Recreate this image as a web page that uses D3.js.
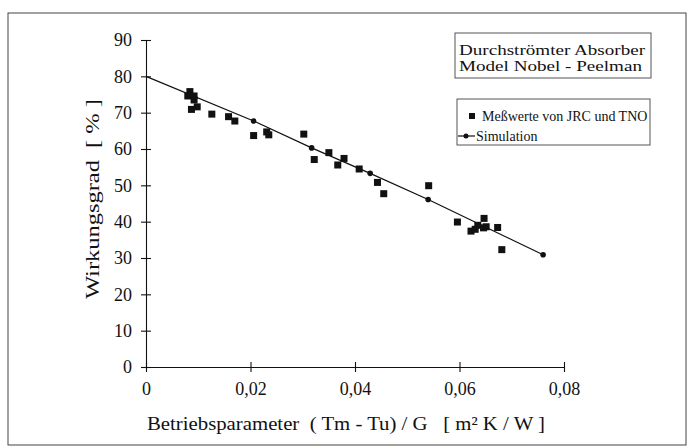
<!DOCTYPE html>
<html>
<head>
<meta charset="utf-8">
<script src="https://cdn.jsdelivr.net/npm/d3@7"></script>
<style>
body { margin: 0; background: #fff; }
text { font-family: "Liberation Serif", "DejaVu Serif", serif; fill: #111; }
</style>
</head>
<body>
<script>

// Messwerte (JRC / TNO)
var messX = [0.0084, 0.0080, 0.0092, 0.0092, 0.0087, 0.0098, 0.0126, 0.0158, 0.0170, 0.0206,
             0.0231, 0.0235, 0.0302, 0.0322, 0.0350, 0.0379, 0.0367, 0.0408, 0.0443, 0.0455,
             0.0541, 0.0596, 0.0647, 0.0635, 0.0646, 0.0651, 0.0622, 0.0630, 0.0673, 0.0681];
var messY = [75.8, 74.6, 74.6, 73.5, 70.9, 71.6, 69.6, 68.9, 67.7, 63.7,
             64.7, 63.9, 64.1, 57.1, 59.0, 57.4, 55.6, 54.5, 50.8, 47.7,
             49.9, 39.9, 40.9, 39.0, 38.3, 38.6, 37.4, 37.9, 38.4, 32.3];

// Simulation
var simX = [0, 0.0206, 0.0317, 0.0429, 0.0540, 0.0760];
var simY = [80, 67.7, 60.3, 53.3, 46.1, 30.9];

var xTicks = [0, 0.02, 0.04, 0.06, 0.08];
var yTicks = [0, 10, 20, 30, 40, 50, 60, 70, 80, 90];

var boxLines = ["Durchströmter Absorber", "Model Nobel - Peelman"];
var legendLabels = ["Meßwerte von JRC und TNO", "Simulation"];

var svg = d3.select("body").append("svg")
          .attr("width", 689)
          .attr("height", 448);

// outer frame
svg.append("rect")
   .attr("x", 8).attr("y", 13)
   .attr("width", 678).attr("height", 432)
   .style("fill", "none").style("stroke", "#444").style("stroke-width", 1);

var x = d3.scaleLinear().domain([0, 0.08]).range([146, 564]);
var y = d3.scaleLinear().domain([0, 90]).range([367, 40]);

var fmtX = function(d) { return d === 0 ? "0" : d3.format(".2f")(d).replace(".", ","); };

var gx = svg.append("g")
            .attr("transform", "translate(0," + y(0) + ")")
            .call(d3.axisBottom(x).tickValues(xTicks).tickFormat(fmtX).tickSize(5).tickPadding(10).tickSizeOuter(0));
gx.selectAll(".tick line").attr("y1", -5).attr("y2", 5);

var gy = svg.append("g")
            .attr("transform", "translate(" + x(0) + ",0)")
            .call(d3.axisLeft(y).tickValues(yTicks).tickSize(5).tickPadding(9).tickSizeOuter(0));
gy.selectAll(".tick line").attr("x1", -5).attr("x2", 5);

svg.selectAll(".domain, .tick line").style("stroke", "#111").style("stroke-width", 1.1);
svg.selectAll(".tick text").style("font-size", "18px")
   .style("font-family", "Liberation Serif").style("fill", "#111");

// axis titles (scan is a bit stretched, so glyphs are widened to the measured length)
svg.append("text")
   .attr("transform", "translate(99,199) rotate(-90)")
   .attr("text-anchor", "middle")
   .attr("textLength", 200)
   .attr("lengthAdjust", "spacingAndGlyphs")
   .style("font-size", "19px")
   .style("white-space", "pre")
   .text("Wirkungsgrad  [ % ]");

svg.append("text")
   .attr("x", 346).attr("y", 430)
   .attr("text-anchor", "middle")
   .attr("textLength", 398)
   .attr("lengthAdjust", "spacingAndGlyphs")
   .style("font-size", "19px")
   .style("white-space", "pre")
   .text("Betriebsparameter  ( Tm - Tu) / G   [ m² K / W ]");

// simulation line + points
var line = d3.line()
             .x(function(d, i) { return x(simX[i]); })
             .y(function(d) { return y(d); });

svg.append("path")
   .datum(simY)
   .attr("d", line)
   .style("fill", "none").style("stroke", "#111").style("stroke-width", 1.2);

svg.selectAll(".sim")
   .data(simY.slice(1))
   .enter().append("circle")
   .attr("class", "sim")
   .attr("cx", function(d, i) { return x(simX[i + 1]); })
   .attr("cy", function(d) { return y(d); })
   .attr("r", 2.8)
   .style("fill", "#111");

// measured points
svg.selectAll(".mess")
   .data(messY)
   .enter().append("rect")
   .attr("class", "mess")
   .attr("x", function(d, i) { return x(messX[i]) - 3.5; })
   .attr("y", function(d) { return y(d) - 3.5; })
   .attr("width", 7).attr("height", 7)
   .style("fill", "#111");

// title box
svg.append("rect")
   .attr("x", 455).attr("y", 33).attr("width", 196).attr("height", 45)
   .style("fill", "#fff").style("stroke", "#555").style("stroke-width", 1);

var boxWidths = [186, 183];
svg.selectAll(".boxline")
   .data(boxLines)
   .enter().append("text")
   .attr("class", "boxline")
   .attr("x", 459)
   .attr("y", function(d, i) { return 55 + i * 16; })
   .attr("textLength", function(d, i) { return boxWidths[i]; })
   .attr("lengthAdjust", "spacingAndGlyphs")
   .style("font-size", "15px")
   .text(function(d) { return d; });

// legend
svg.append("rect")
   .attr("x", 457).attr("y", 99).attr("width", 193).attr("height", 46)
   .style("fill", "#fff").style("stroke", "#555").style("stroke-width", 1);

svg.append("rect")
   .attr("x", 469).attr("y", 113).attr("width", 6).attr("height", 6)
   .style("fill", "#111");

svg.append("line")
   .attr("x1", 458).attr("x2", 475).attr("y1", 136).attr("y2", 136)
   .style("stroke", "#111").style("stroke-width", 1.2);
svg.append("circle")
   .attr("cx", 466).attr("cy", 136).attr("r", 2.5)
   .style("fill", "#111");

svg.selectAll(".leg")
   .data(legendLabels)
   .enter().append("text")
   .attr("class", "leg")
   .attr("x", function(d, i) { return i === 0 ? 482 : 476; })
   .attr("y", function(d, i) { return 121 + i * 20; })
   .style("font-size", "14px")
   .text(function(d) { return d; });

</script>
</body>
</html>
